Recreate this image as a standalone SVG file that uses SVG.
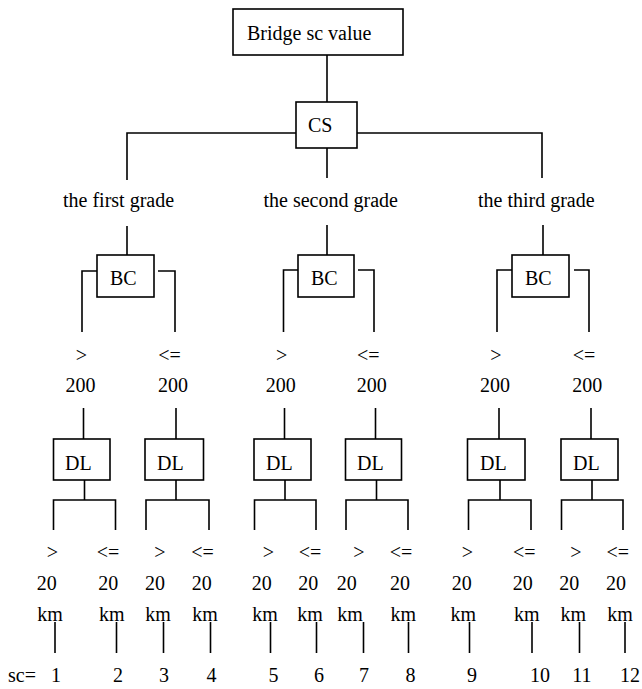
<svg xmlns="http://www.w3.org/2000/svg" width="642" height="689" viewBox="0 0 642 689">
  <style>
    .box { fill: #fff; stroke: #000; stroke-width: 1.6; }
    .wire { fill: none; stroke: #000; stroke-width: 1.6; }
    .t { font-family: "Liberation Serif", "Times New Roman", serif; font-size: 20px; fill: #000; }
    .c { text-anchor: middle; }
  </style>
  <rect width="642" height="689" fill="#fff"/>

  <!-- connectors -->
  <g id="connectors" class="wire">
    <!-- root to CS -->
    <path d="M327 55 V102"/>
    <!-- CS to grades -->
    <path d="M296 133 H127 V180"/>
    <path d="M357 133 H542 V178"/>
    <path d="M327 148 V178"/>
    <!-- grades to BC -->
    <path d="M127 226 V255"/>
    <path d="M327 225 V255"/>
    <path d="M543 225 V255"/>
    <!-- BC branches -->
    <path d="M97 271 H82 V332"/>
    <path d="M158 271 H175 V332"/>
    <path d="M298 270 H283.5 V332"/>
    <path d="M358 270 H374 V332"/>
    <path d="M512 270 H497 V332"/>
    <path d="M574 270 H589 V332"/>
    <!-- thresholds to DL -->
    <path d="M83.5 408 V439"/>
    <path d="M176 408 V439"/>
    <path d="M284.5 408 V439"/>
    <path d="M375.5 408 V439"/>
    <path d="M499 408 V439"/>
    <path d="M591 408 V439"/>
    <!-- DL branches -->
    <path d="M84.5 480 V500 M53.5 530 V500 H115.5 V530"/>
    <path d="M176 480 V500 M146 530 V500 H209 V530"/>
    <path d="M285 480 V500 M254.5 530 V500 H316 V530"/>
    <path d="M376.5 480 V500 M346 530 V500 H408 V530"/>
    <path d="M500 480 V500 M468.5 530 V500 H531 V530"/>
    <path d="M592 480 V500 M561.5 530 V500 H623 V530"/>
    <!-- leaves to sc values -->
    <path d="M55 622 V653"/>
    <path d="M116.5 622 V653"/>
    <path d="M163.5 622 V653"/>
    <path d="M210.5 622 V653"/>
    <path d="M270.5 622 V653"/>
    <path d="M316.5 622 V653"/>
    <path d="M363.5 622 V653"/>
    <path d="M408.5 622 V653"/>
    <path d="M469.5 622 V653"/>
    <path d="M532 622 V653"/>
    <path d="M579.5 622 V653"/>
    <path d="M625 622 V653"/>
  </g>

  <!-- root -->
  <g id="bridge">
    <rect class="box" x="233" y="9" width="170" height="46"/>
    <text class="t" x="247" y="40">Bridge sc value</text>
  </g>

  <g id="cs">
    <rect class="box" x="296" y="102" width="61" height="46"/>
    <text class="t" x="308" y="132">CS</text>
  </g>

  <!-- grade labels -->
  <g id="grade1"><text class="t" x="63" y="207">the first grade</text></g>
  <g id="grade2"><text class="t" x="263.5" y="207">the second grade</text></g>
  <g id="grade3"><text class="t" x="478" y="207">the third grade</text></g>

  <!-- BC nodes -->
  <g id="bc1">
    <rect class="box" x="97" y="255" width="57" height="42"/>
    <text class="t" x="110" y="285">BC</text>
  </g>
  <g id="bc2">
    <rect class="box" x="298" y="255" width="56" height="42"/>
    <text class="t" x="311" y="285">BC</text>
  </g>
  <g id="bc3">
    <rect class="box" x="512" y="255" width="57" height="42"/>
    <text class="t" x="525" y="285">BC</text>
  </g>

  <!-- BC thresholds -->
  <g id="bc-thresholds" class="t c">
    <text x="81.5" y="362">&gt;</text>
    <text x="169.5" y="362">&lt;=</text>
    <text x="281.7" y="362">&gt;</text>
    <text x="368.3" y="362">&lt;=</text>
    <text x="496" y="362">&gt;</text>
    <text x="584" y="362">&lt;=</text>
    <text x="80.5" y="392">200</text>
    <text x="173" y="392">200</text>
    <text x="280.7" y="392">200</text>
    <text x="371.7" y="392">200</text>
    <text x="495" y="392">200</text>
    <text x="587.3" y="392">200</text>
  </g>

  <!-- DL nodes -->
  <g id="dl1">
    <rect class="box" x="53.5" y="439" width="56.5" height="41"/>
    <text class="t" x="65" y="470">DL</text>
  </g>
  <g id="dl2">
    <rect class="box" x="145" y="439" width="58.5" height="41"/>
    <text class="t" x="157" y="470">DL</text>
  </g>
  <g id="dl3">
    <rect class="box" x="254" y="439" width="57" height="41"/>
    <text class="t" x="266" y="470">DL</text>
  </g>
  <g id="dl4">
    <rect class="box" x="345.5" y="439" width="56" height="41"/>
    <text class="t" x="357" y="470">DL</text>
  </g>
  <g id="dl5">
    <rect class="box" x="467.5" y="439" width="57.5" height="41"/>
    <text class="t" x="480" y="470">DL</text>
  </g>
  <g id="dl6">
    <rect class="box" x="561" y="439" width="57" height="41"/>
    <text class="t" x="573" y="470">DL</text>
  </g>

  <!-- DL thresholds -->
  <g id="dl-thresholds" class="t c">
    <text x="52.5" y="559">&gt;</text>
    <text x="108" y="559">&lt;=</text>
    <text x="160" y="559">&gt;</text>
    <text x="202.5" y="559">&lt;=</text>
    <text x="268.5" y="559">&gt;</text>
    <text x="310" y="559">&lt;=</text>
    <text x="359" y="559">&gt;</text>
    <text x="401" y="559">&lt;=</text>
    <text x="467.5" y="559">&gt;</text>
    <text x="524.3" y="559">&lt;=</text>
    <text x="576" y="559">&gt;</text>
    <text x="617.7" y="559">&lt;=</text>

    <text x="46.7" y="590">20</text>
    <text x="108.3" y="590">20</text>
    <text x="155" y="590">20</text>
    <text x="201.7" y="590">20</text>
    <text x="261.7" y="590">20</text>
    <text x="308.3" y="590">20</text>
    <text x="346.7" y="590">20</text>
    <text x="400" y="590">20</text>
    <text x="461.7" y="590">20</text>
    <text x="522.7" y="590">20</text>
    <text x="569.3" y="590">20</text>
    <text x="616" y="590">20</text>

    <text x="50" y="621">km</text>
    <text x="111.7" y="621">km</text>
    <text x="158" y="621">km</text>
    <text x="205" y="621">km</text>
    <text x="265" y="621">km</text>
    <text x="310" y="621">km</text>
    <text x="350" y="621">km</text>
    <text x="403.3" y="621">km</text>
    <text x="463.3" y="621">km</text>
    <text x="526.7" y="621">km</text>
    <text x="573.3" y="621">km</text>
    <text x="620" y="621">km</text>
  </g>

  <!-- sc values -->
  <g id="sc-values" class="t">
    <text x="8" y="682">sc=</text>
    <g class="c">
      <text x="56" y="682">1</text>
      <text x="118" y="682">2</text>
      <text x="164" y="682">3</text>
      <text x="211.5" y="682">4</text>
      <text x="273.5" y="682">5</text>
      <text x="319" y="682">6</text>
      <text x="364" y="682">7</text>
      <text x="410.5" y="682">8</text>
      <text x="472" y="682">9</text>
      <text x="540" y="682">10</text>
      <text x="582" y="682">11</text>
      <text x="630" y="682">12</text>
    </g>
  </g>
</svg>
